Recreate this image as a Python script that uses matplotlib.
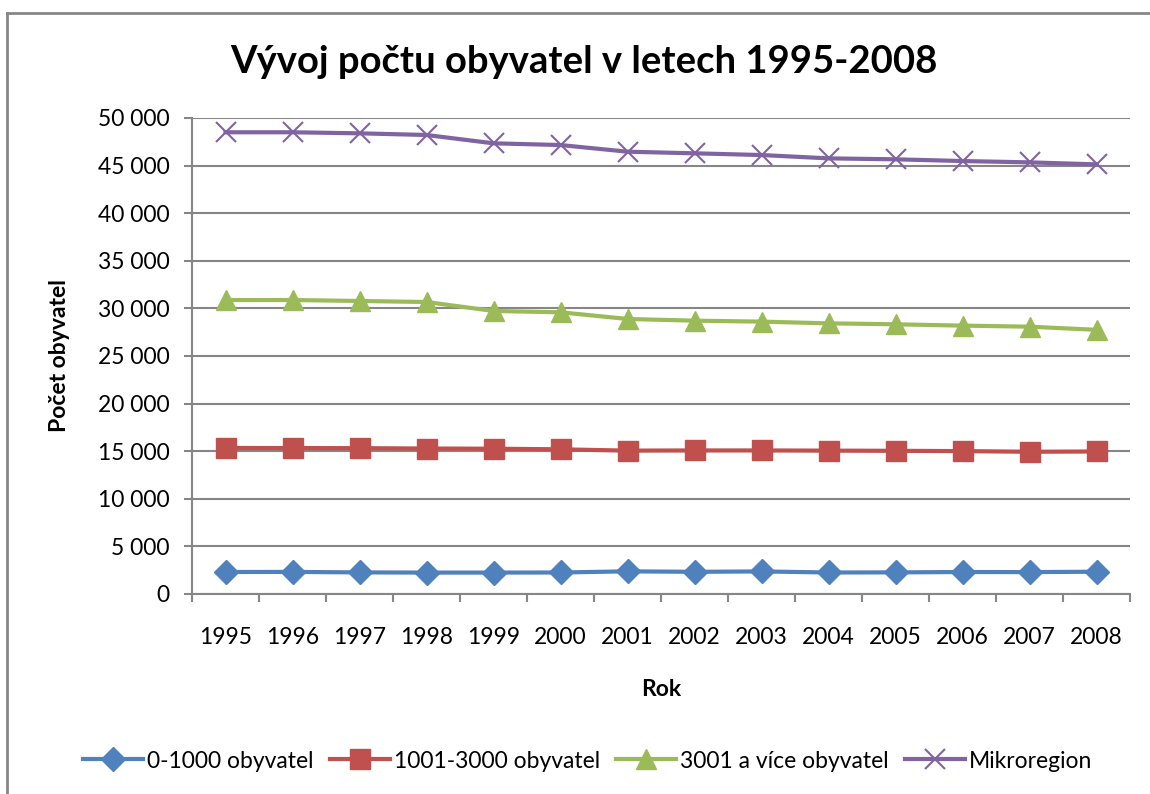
import matplotlib
matplotlib.use("Agg")
import matplotlib.pyplot as plt
from matplotlib.lines import Line2D
from matplotlib.ticker import FuncFormatter, MultipleLocator
import numpy as np

years = ["1995", "1996", "1997", "1998", "1999", "2000", "2001",
         "2002", "2003", "2004", "2005", "2006", "2007", "2008"]
small = [2310, 2320, 2270, 2250, 2250, 2260, 2380, 2330, 2370, 2260, 2270, 2310, 2300, 2340]
medium = [15340, 15330, 15320, 15280, 15260, 15200, 15060, 15080, 15080, 15060, 15040, 15010, 14940, 14970]
large = [30880, 30880, 30780, 30670, 29730, 29590, 28890, 28710, 28610, 28430, 28330, 28190, 28080, 27750]
micro = [48500, 48500, 48390, 48215, 47340, 47160, 46460, 46290, 46110, 45760, 45660, 45480, 45340, 45130]
series_names = ["0-1000 obyvatel", "1001-3000 obyvatel", "3001 a více obyvatel", "Mikroregion"]

plt.rcParams['font.family'] = ['Lato', 'DejaVu Sans']

fig = plt.figure(figsize=(11.5, 7.94), dpi=100)
ax = fig.add_axes([192/1150, 1-594/794, (1130-192)/1150, (594-118)/794])

x = np.arange(len(years))
styles = [
    dict(color="#4F81BD", marker="D", ms=12),
    dict(color="#C0504D", marker="s", ms=14),
    dict(color="#9BBB59", marker="^", ms=15),
    dict(color="#8064A2", marker="x", ms=14, mew=1.5),
]
for vals, name, st in zip([small, medium, large, micro], series_names, styles):
    ax.plot(x, vals, lw=3, label=name, solid_joinstyle="round", **st)

ax.set_xlim(-0.5, len(years) - 0.5)
ax.set_ylim(0, 50000)
ax.yaxis.set_major_locator(MultipleLocator(5000))
ax.yaxis.set_major_formatter(FuncFormatter(lambda v, p: f"{int(v):,}".replace(",", " ")))
ax.set_xticks(x)
ax.set_xticklabels(years)
ax.set_xticks(np.arange(-0.5, len(years)), minor=True)
ax.tick_params(axis="x", which="major", length=0, pad=24, labelsize=16.5)
ax.tick_params(axis="x", which="minor", length=6, width=1.5, color="#868686", direction="out")
ax.tick_params(axis="y", length=6, width=1.5, color="#868686", direction="out", pad=10, labelsize=16.5)

ax.grid(axis="y", color="#868686", lw=1.5)
ax.set_axisbelow(True)
for s in ["top", "right"]:
    ax.spines[s].set_visible(False)
for s in ["left", "bottom"]:
    ax.spines[s].set_color("#868686")
    ax.spines[s].set_linewidth(1.5)

ax.set_xlabel("Rok", fontsize=16.5, fontweight="bold", labelpad=22)
ax.set_ylabel("Počet obyvatel", fontsize=16.5, fontweight="bold", labelpad=20)

fig.text(584/1150, 1-62/794, "Vývoj počtu obyvatel v letech 1995-2008",
         ha="center", va="center", fontsize=27.5, fontweight="bold")

fig.legend(loc="center", bbox_to_anchor=(588/1150, 1-761/794), ncol=4, frameon=False,
           fontsize=16.5, handlelength=2.6, handletextpad=0.2, columnspacing=0.7)

top = 1 - 13/794
left = 7/1150
fig.lines.append(Line2D([left, left], [0.0, top], transform=fig.transFigure, color="#868686", lw=2))
fig.lines.append(Line2D([left, 1.0], [top, top], transform=fig.transFigure, color="#868686", lw=2))

fig.savefig("out.png", dpi=100)
